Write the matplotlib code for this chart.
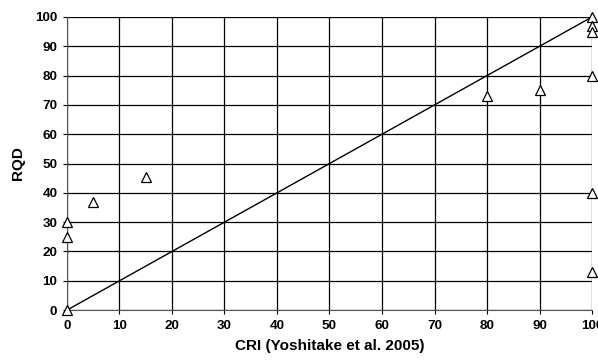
import matplotlib
matplotlib.use("Agg")
from matplotlib import pyplot as plt

# CRI vs RQD data
cri = [0, 0, 0, 5, 15, 80, 90, 100, 100, 100, 100, 100, 100]
rqd = [0, 25, 30, 37, 45.5, 73, 75, 100, 97, 95, 80, 40, 13]
line_x = [0, 100]
line_y = [0, 100]
ticks = list(range(0, 101, 10))

plt.rcParams['font.family'] = ['Liberation Sans', 'DejaVu Sans']

fig = plt.figure(figsize=(5.98, 3.61), dpi=100)
ax = fig.add_axes([0.112, 0.141, 0.878, 0.812])

ax.plot(line_x, line_y, color='black', linewidth=1.0, zorder=3)
ax.plot(cri, rqd, linestyle='none', marker='^', markersize=7.5,
        markerfacecolor='white', markeredgecolor='black', markeredgewidth=0.9,
        clip_on=False, zorder=4)

ax.set_xlim(0, 100)
ax.set_ylim(0, 100)
ax.set_xticks(ticks)
ax.set_yticks(ticks)
ax.grid(True, color='black', linewidth=0.9)
ax.set_axisbelow(True)

for s in ['top', 'right']:
    ax.spines[s].set_visible(False)
ax.spines['left'].set_color('#555555')
ax.spines['bottom'].set_color('#555555')

ax.tick_params(direction='out', length=3, width=0.8, labelsize=9.7, pad=4)
for lab in ax.get_xticklabels() + ax.get_yticklabels():
    lab.set_fontweight('bold')

ax.set_xlabel("CRI (Yoshitake et al. 2005)", fontsize=11, fontweight='bold', labelpad=5)
ax.set_ylabel("RQD", fontsize=11, fontweight='bold', labelpad=7)

fig.savefig("out.png", dpi=100)
